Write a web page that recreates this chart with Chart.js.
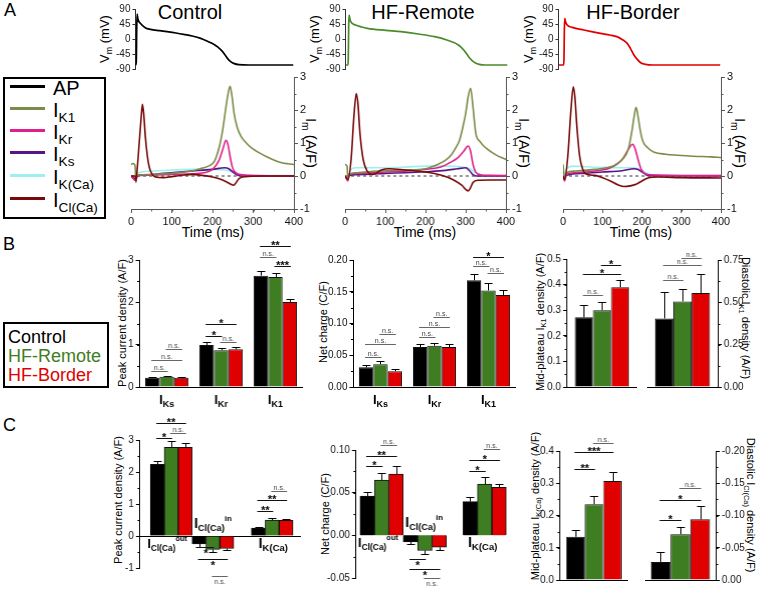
<!DOCTYPE html>
<html>
<head>
<meta charset="utf-8">
<script src="https://cdn.jsdelivr.net/npm/chart.js@4.4.1/dist/chart.umd.min.js"></script>
<style>
  html,body{margin:0;padding:0;background:#fff;}
  body{width:757px;height:589px;position:relative;overflow:hidden;font-family:"Liberation Sans",Arial,sans-serif;color:#000;}
  .t{position:absolute;white-space:nowrap;line-height:1;}
  .c{transform:translate(-50%,-50%);}
  .vl{transform:translate(-50%,-50%) rotate(-90deg);}
  .vr{transform:translate(-50%,-50%) rotate(90deg);}
  .box{position:absolute;border:2px solid #000;box-sizing:border-box;}
  .lg{position:absolute;height:3px;width:35px;left:10px;}
  sub{font-size:0.68em;vertical-align:-0.35em;line-height:0;}
</style>
</head>
<body>
<div class="t" style="left:4px;top:1px;font-size:18px">A</div>
<div class="t" style="left:3px;top:235px;font-size:18px">B</div>
<div class="t" style="left:3px;top:416px;font-size:18px">C</div>

<div class="t c" style="left:190px;top:12px;font-size:20px">Control</div>
<div class="t c" style="left:423px;top:12px;font-size:20px">HF-Remote</div>
<div class="t c" style="left:633px;top:12px;font-size:20px">HF-Border</div>

<div class="t vl" style="left:104px;top:39px;font-size:13px">V<sub>m</sub> (mV)</div>
<div class="t vl" style="left:314px;top:39px;font-size:13px">V<sub>m</sub> (mV)</div>
<div class="t vl" style="left:528px;top:39px;font-size:13px">V<sub>m</sub> (mV)</div>

<div class="t vr" style="left:311px;top:143px;font-size:15px">I<sub>m</sub> (A/F)</div>
<div class="t vr" style="left:524px;top:143px;font-size:15px">I<sub>m</sub> (A/F)</div>
<div class="t vr" style="left:740px;top:143px;font-size:15px">I<sub>m</sub> (A/F)</div>

<div class="t c" style="left:213px;top:232px;font-size:14px">Time (ms)</div>
<div class="t c" style="left:425px;top:232px;font-size:14px">Time (ms)</div>
<div class="t c" style="left:641px;top:232px;font-size:14px">Time (ms)</div>

<!-- legend A -->
<div class="box" style="left:3px;top:77px;width:103px;height:142px"></div>
<div class="lg" style="top:85px;background:#000"></div>
<div class="lg" style="top:107px;background:#7a8c48"></div>
<div class="lg" style="top:129px;background:#e0208a"></div>
<div class="lg" style="top:151px;background:#5a1585"></div>
<div class="lg" style="top:174px;background:#9ef0f0"></div>
<div class="lg" style="top:197px;background:#780a0a"></div>
<div class="t" style="left:53px;top:78px;font-size:20px">AP</div>
<div class="t" style="left:53px;top:100px;font-size:20px">I<sub>K1</sub></div>
<div class="t" style="left:53px;top:122px;font-size:20px">I<sub>Kr</sub></div>
<div class="t" style="left:53px;top:144px;font-size:20px">I<sub>Ks</sub></div>
<div class="t" style="left:53px;top:167px;font-size:20px">I<sub>K(Ca)</sub></div>
<div class="t" style="left:53px;top:190px;font-size:20px">I<sub>Cl(Ca)</sub></div>

<!-- legend B -->
<div class="box" style="left:3px;top:322px;width:106px;height:66px"></div>
<div class="t" style="left:8px;top:328px;font-size:18px;color:#000">Control</div>
<div class="t" style="left:8px;top:347px;font-size:18px;color:#3f7d23">HF-Remote</div>
<div class="t" style="left:8px;top:366px;font-size:18px;color:#e00000">HF-Border</div>

<!-- axis titles B / C -->
<div class="t vl" style="left:122px;top:323px;font-size:11px">Peak current density (A/F)</div>
<div class="t vl" style="left:323px;top:322px;font-size:11px">Net charge (C/F)</div>
<div class="t vl" style="left:540px;top:322px;font-size:11px">Mid-plateau I<sub>K1</sub> density (A/F)</div>
<div class="t vr" style="left:745px;top:318px;font-size:11px">Diastolic I<sub>K1</sub> density (A/F)</div>
<div class="t vl" style="left:118px;top:500px;font-size:11px">Peak current density (A/F)</div>
<div class="t vl" style="left:325px;top:514px;font-size:11px">Net charge (C/F)</div>
<div class="t vl" style="left:535px;top:506px;font-size:11px">Mid-plateau I<sub>K(Ca)</sub> density (A/F)</div>
<div class="t vr" style="left:750px;top:505px;font-size:11px">Diastolic I<sub>Cl(Ca)</sub> density (A/F)</div>

<script>
// ===================== DATA =====================
const groupNames = ['Control', 'HF-Remote', 'HF-Border'];

// ---- Panel A: action potentials, [time ms, Vm mV]
const apControl = [[10,-78],[12,-70],[13,20],[14,75],[16,60],[22,47],[35,33],[47,29],[70,25],[88,22],[110,18],[129,14],[150,9],[171,2],[190,-8],[205,-17],[212,-23],[225,-38],[237,-58],[245,-68],[254,-74],[265,-77],[290,-78],[400,-78]];
const apRemote = [[0,-78],[6,-78],[7,-60],[8,40],[9,72],[11,60],[13,52],[25,42],[40,36],[54,32],[100,26],[137,22],[180,15],[220,7],[250,-3],[279,-18],[292,-33],[304,-53],[312,-64],[320,-71],[330,-76],[345,-78],[400,-78]];
const apBorder = [[-10,-78],[3,-78],[4,-60],[5,30],[6,62],[8,52],[12,42],[25,35],[54,27],[96,17],[120,12],[138,7],[152,-2],[164,-13],[172,-28],[181,-48],[190,-62],[198,-71],[210,-76],[230,-78],[400,-78]];

// ---- Panel A: membrane currents, [time ms, Im A/F]
const ik1Control = [[0,0.35],[5,0.38],[10,0.3],[12,-0.2],[14,0.0],[20,0.03],[50,0.05],[100,0.08],[150,0.15],[170,0.22],[190,0.3],[205,0.45],[217,0.9],[225,1.4],[232,2.0],[237,2.4],[243,2.72],[248,2.4],[253,1.9],[260,1.5],[270,1.2],[283,1.0],[295,0.86],[315,0.7],[337,0.56],[355,0.46],[370,0.4],[385,0.37],[400,0.35]];
const ikrControl = [[0,0],[12,-0.15],[14,0],[20,0.02],[100,0.05],[180,0.1],[200,0.2],[215,0.45],[225,0.8],[233,1.08],[238,0.95],[243,0.6],[248,0.3],[253,0.15],[265,0.05],[290,0.02],[400,0.0]];
const iksControl = [[0,0],[12,-0.1],[15,0],[30,0.03],[80,0.08],[150,0.15],[200,0.2],[230,0.25],[240,0.22],[250,0.12],[260,0.04],[270,0.0],[400,0]];
const ikcaControl = [[0,0],[12,-0.1],[15,0.05],[25,0.12],[50,0.15],[100,0.18],[150,0.2],[200,0.2],[230,0.18],[250,0.12],[265,0.04],[280,0.02],[400,0.01]];
const iclcaControl = [[0,0],[10,0],[12,-0.15],[15,0.2],[20,1.0],[25,1.8],[28,2.17],[31,1.9],[35,1.2],[40,0.6],[45,0.25],[52,0.05],[60,-0.03],[80,-0.05],[100,-0.02],[130,0.03],[150,0.05],[175,0.02],[200,-0.03],[220,-0.1],[235,-0.18],[245,-0.25],[252,-0.28],[258,-0.2],[265,-0.08],[280,-0.02],[320,0],[400,0]];

const ik1Remote = [[0,0.35],[5,0.3],[7,-0.1],[10,0.05],[30,0.1],[80,0.15],[150,0.18],[200,0.22],[230,0.35],[250,0.48],[265,0.65],[275,0.85],[285,1.1],[295,1.6],[300,1.9],[306,2.4],[312,2.66],[318,2.1],[325,1.3],[335,1.05],[350,0.85],[375,0.64],[400,0.5]];
const ikrRemote = [[0,0],[7,-0.15],[10,0.05],[30,0.08],[100,0.12],[200,0.2],[240,0.28],[260,0.4],[280,0.55],[295,0.75],[306,0.91],[312,0.75],[318,0.35],[325,0.12],[335,0.04],[360,0.02],[400,0.01]];
const iksRemote = [[0,0],[7,-0.1],[10,0.02],[50,0.05],[100,0.08],[150,0.1],[200,0.13],[250,0.17],[280,0.22],[300,0.25],[310,0.15],[318,0.04],[325,0],[400,0]];
const ikcaRemote = [[0,0],[7,-0.1],[12,0.15],[25,0.25],[50,0.25],[100,0.25],[150,0.27],[200,0.3],[250,0.3],[290,0.28],[310,0.22],[325,0.1],[340,0.03],[360,0.01],[400,0.01]];
const iclcaRemote = [[0,0],[7,-0.1],[15,0.5],[22,1.8],[28,2.5],[32,2.2],[37,1.3],[45,0.5],[55,0.15],[70,0.05],[90,0.18],[110,0.22],[150,0.18],[200,0.12],[240,0.02],[270,-0.12],[290,-0.28],[306,-0.45],[312,-0.35],[318,-0.2],[330,-0.13],[360,-0.12],[400,-0.12]];

const ik1Border = [[0,0.35],[4,-0.1],[8,0.1],[30,0.15],[80,0.2],[110,0.25],[130,0.32],[150,0.5],[165,0.8],[175,1.4],[180,1.8],[185,2.08],[190,1.8],[196,1.35],[202,1.06],[215,0.85],[231,0.72],[260,0.66],[290,0.63],[330,0.6],[375,0.58],[400,0.56]];
const ikrBorder = [[0,0],[4,-0.15],[8,0.05],[30,0.1],[80,0.15],[120,0.25],[150,0.5],[165,0.8],[176,0.96],[182,0.85],[190,0.5],[198,0.2],[210,0.06],[230,0.03],[400,0.01]];
const iksBorder = [[0,0],[4,-0.1],[8,0.02],[50,0.08],[100,0.12],[150,0.16],[180,0.22],[190,0.2],[200,0.12],[210,0.04],[220,0.01],[400,0]];
const ikcaBorder = [[0,0],[4,-0.1],[8,0.2],[25,0.3],[60,0.28],[100,0.26],[150,0.25],[180,0.25],[195,0.2],[210,0.1],[225,0.04],[250,0.02],[400,0.02]];
const iclcaBorder = [[0,0],[4,-0.1],[12,0.6],[20,2.0],[26,2.7],[30,2.4],[35,1.5],[42,0.6],[50,0.2],[60,0.05],[80,0.02],[100,-0.05],[120,-0.15],[140,-0.27],[155,-0.32],[170,-0.3],[185,-0.25],[200,-0.15],[215,-0.06],[240,-0.03],[300,-0.05],[400,-0.06]];
const zeroLine = [[0,0],[400,0]];

// ---- Panel B
const catsB = ['IKs', 'IKr', 'IK1'];
const peakK_control = [0.22, 0.99, 2.63];
const peakK_remote  = [0.24, 0.87, 2.60];
const peakK_border  = [0.22, 0.89, 2.01];
const peakK_controlSem = [0.02, 0.07, 0.12];
const peakK_remoteSem  = [0.03, 0.04, 0.09];
const peakK_borderSem  = [0.02, 0.05, 0.06];

const chargeK_control = [0.031, 0.063, 0.168];
const chargeK_remote  = [0.036, 0.065, 0.152];
const chargeK_border  = [0.025, 0.063, 0.145];
const chargeK_controlSem = [0.004, 0.005, 0.010];
const chargeK_remoteSem  = [0.005, 0.004, 0.012];
const chargeK_borderSem  = [0.003, 0.004, 0.008];

const midK1 = [0.272, 0.300, 0.390];
const midK1Sem = [0.048, 0.032, 0.028];
const diaK1 = [0.405, 0.505, 0.555];
const diaK1Sem = [0.155, 0.075, 0.110];

// ---- Panel C
const catsC = ['ICl(Ca)out', 'ICl(Ca)in', 'IK(Ca)'];
const peakCl_control = [2.24, -0.25, 0.25];
const peakCl_remote  = [2.77, -0.42, 0.50];
const peakCl_border  = [2.77, -0.39, 0.49];
const peakCl_controlSem = [0.10, 0.08, 0.04];
const peakCl_remoteSem  = [0.20, 0.07, 0.07];
const peakCl_borderSem  = [0.13, 0.05, 0.03];

const chargeCl_control = [0.046, -0.0078, 0.0395];
const chargeCl_remote  = [0.0647, -0.0178, 0.060];
const chargeCl_border  = [0.0717, -0.014, 0.0562];
const chargeCl_controlSem = [0.0044, 0.002, 0.005];
const chargeCl_remoteSem  = [0.0078, 0.004, 0.0078];
const chargeCl_borderSem  = [0.0093, 0.0027, 0.0035];

const midKCa = [0.134, 0.235, 0.307];
const midKCaSem = [0.022, 0.024, 0.029];
const diaClCa = [-0.028, -0.071, -0.094];
const diaClCaSem = [0.015, 0.011, 0.021];

// significance annotations: [category, groupA, groupB, level (data units), label]
const sigB1 = [[0,0,1,0.38,'n.s.'],[0,0,2,0.64,'n.s.'],[0,1,2,0.89,'n.s.'],[1,0,1,1.20,'*'],[1,0,2,1.48,'*'],[1,1,2,1.06,'n.s.'],[2,0,1,3.08,'n.s.'],[2,0,2,3.32,'**'],[2,1,2,2.85,'***']];
const sigB2 = [[0,0,1,0.048,'n.s.'],[0,0,2,0.067,'n.s.'],[0,1,2,0.084,'n.s.'],[1,0,1,0.078,'n.s.'],[1,0,2,0.094,'n.s.'],[1,1,2,0.111,'n.s.'],[2,0,1,0.190,'n.s.'],[2,0,2,0.205,'*'],[2,1,2,0.180,'n.s.']];
const sigB3 = [[0,0,1,0.36,'n.s.'],[0,0,2,0.44,'*'],[0,1,2,0.475,'*']];
const sigB4 = [[0,0,1,0.63,'n.s.'],[0,0,2,0.72,'n.s.'],[0,1,2,0.76,'n.s.']];
const sigC1 = [[0,0,1,3.06,'*'],[0,1,2,3.22,'n.s.'],[0,0,2,3.53,'**'],[1,0,1,-0.34,'*'],[1,0,2,-0.72,'*'],[1,1,2,-1.25,'n.s.'],[2,0,1,0.78,'**'],[2,0,2,1.13,'**'],[2,1,2,1.41,'n.s.']];
const sigC2 = [[0,0,1,0.081,'*'],[0,0,2,0.0926,'**'],[0,1,2,0.1055,'n.s.'],[1,0,1,-0.028,'*'],[1,0,2,-0.040,'*'],[1,1,2,-0.050,'n.s.'],[2,0,1,0.075,'*'],[2,0,2,0.088,'*'],[2,1,2,0.1008,'n.s.']];
const sigC3 = [[0,0,1,0.344,'**'],[0,0,2,0.396,'***'],[0,1,2,0.424,'n.s.']];
const sigC4 = [[0,0,1,-0.093,'*'],[0,0,2,-0.124,'*'],[0,1,2,-0.143,'n.s.']];

// ===================== LAYOUT / STYLE / HELPERS =====================
// group slots along the x axis of panel C bar charts (out and in groups sit side by side)
const slotsC1 = [0, 1, 2.42], rangeC1 = [-0.747, 3.108], barPxC1 = 13.83;
const slotsC2 = [0, 1, 2.384], rangeC2 = [-0.593, 3.035], barPxC2 = 14.33;

const FONT = '"Liberation Sans", Arial, sans-serif';
const groupColors = ['#000000', '#3f7d23', '#e00000'];
const traceColors = {ik1:'#7a8c48', ikr:'#e0208a', iks:'#5a1585', ikca:'#9ef0f0', iclca:'#780a0a'};
Chart.defaults.font.family = FONT;
Chart.defaults.color = '#000';
Chart.defaults.animation = false;
Chart.defaults.events = [];
Chart.defaults.plugins.legend.display = false;
Chart.defaults.plugins.tooltip.enabled = false;

function xy(a) { return a.map(p => ({x: p[0], y: p[1]})); }

// rich text (subscript / superscript); align 'center' or 'left'; shrinks to fit maxW if given
function drawRich(ctx, x, y, parts, align, maxW) {
  ctx.save();
  ctx.fillStyle = '#000';
  ctx.textBaseline = 'alphabetic';
  ctx.textAlign = 'left';
  let w = 0;
  parts.forEach(p => { ctx.font = 'bold ' + p[1] + 'px ' + FONT; w += ctx.measureText(p[0]).width; });
  let k = 1;
  if (maxW && w > maxW) k = maxW / w;
  let cx = align === 'left' ? x : x - (w * k) / 2;
  parts.forEach(p => {
    ctx.font = 'bold ' + (p[1] * k).toFixed(2) + 'px ' + FONT;
    ctx.fillText(p[0], cx, y + p[2]);
    cx += ctx.measureText(p[0]).width;
  });
  ctx.restore();
}

const errPlugin = {
  id: 'errbars',
  afterDatasetsDraw(chart) {
    const ys = chart.scales.y, ctx = chart.ctx;
    ctx.save();
    ctx.strokeStyle = '#000'; ctx.lineWidth = 1;
    chart.data.datasets.forEach((ds, i) => {
      if (!ds.err) return;
      const vals = ds.vals || ds.data;
      chart.getDatasetMeta(i).data.forEach((el, j) => {
        const v = vals[j], e = ds.err[j];
        const y0 = ys.getPixelForValue(v);
        const y1 = Math.round(ys.getPixelForValue(v + Math.sign(v) * e)) + 0.5;
        const x = Math.round(el.x) + 0.5;
        ctx.beginPath();
        ctx.moveTo(x, y0); ctx.lineTo(x, y1);
        ctx.moveTo(x - 4, y1); ctx.lineTo(x + 4, y1);
        ctx.stroke();
      });
    });
    ctx.restore();
  }
};

const sigPlugin = {
  id: 'sig',
  afterDatasetsDraw(chart, args, opts) {
    const items = (opts && opts.items) || [];
    if (!items.length) return;
    const ys = chart.scales.y, ctx = chart.ctx;
    const zeroPx = ys.getPixelForValue(0);
    ctx.save();
    items.forEach(([cat, a, b, v, label]) => {
      const xa = chart.getDatasetMeta(a).data[cat].x;
      const xb = chart.getDatasetMeta(b).data[cat].x;
      const y = Math.round(ys.getPixelForValue(v)) + 0.5;
      const up = y < zeroPx;
      const ns = label === 'n.s.';
      ctx.strokeStyle = ns ? '#666' : '#111';
      ctx.lineWidth = 1;
      ctx.beginPath(); ctx.moveTo(xa - 1, y); ctx.lineTo(xb + 1, y); ctx.stroke();
      ctx.fillStyle = ns ? '#444' : '#000';
      ctx.textAlign = 'center';
      ctx.textBaseline = 'alphabetic';
      ctx.font = ns ? '7px ' + FONT : 'bold 11px ' + FONT;
      const mid = (xa + xb) / 2;
      if (up) ctx.fillText(label, mid, ns ? y - 1.5 : y + 2.5);
      else ctx.fillText(label, mid, ns ? y + 7.5 : y + 9);
    });
    ctx.restore();
  }
};

const catPlugin = {
  id: 'cats',
  afterDraw(chart, args, opts) {
    const items = (opts && opts.items) || [];
    items.forEach(it => {
      const first = chart.getDatasetMeta(0).data[it.cat], last = chart.getDatasetMeta(2).data[it.cat];
      const base = it.v !== undefined ? chart.scales.y.getPixelForValue(it.v) : chart.chartArea.bottom;
      if (it.align === 'left') {
        const left = first.x - first.width / 2 + (it.dx || 0);
        const groupW = (last.x + last.width / 2) - (first.x - first.width / 2);
        drawRich(chart.ctx, left, base + it.dy, it.parts, 'left', groupW - (it.dx || 0) + (it.extra || 0));
      } else {
        drawRich(chart.ctx, (first.x + last.x) / 2 + (it.dx || 0), base + it.dy, it.parts, 'center');
      }
    });
  }
};

// minor ticks between the major ones, placed through the scale
const minorPlugin = {
  id: 'minor',
  afterDraw(chart, args, opts) {
    const list = (opts && opts.axes) || [];
    if (!list.length) return;
    const ctx = chart.ctx, ca = chart.chartArea;
    ctx.save();
    list.forEach(a => {
      const s = chart.scales[a.id];
      ctx.strokeStyle = a.color || '#000'; ctx.lineWidth = 1;
      const lo = Math.min(s.min, s.max), hi = Math.max(s.min, s.max);
      const n = Math.round((hi - lo) / a.step);
      for (let k = 0; k <= n; k++) {
        const v = lo + k * a.step;
        const p = Math.round(s.getPixelForValue(v)) + 0.5;
        ctx.beginPath();
        if (s.isHorizontal()) { ctx.moveTo(p, ca.bottom); ctx.lineTo(p, ca.bottom + 2.5); }
        else if (s.position === 'right') { ctx.moveTo(ca.right, p); ctx.lineTo(ca.right + 2.5, p); }
        else { ctx.moveTo(ca.left, p); ctx.lineTo(ca.left - 2.5, p); }
        ctx.stroke();
      }
    });
    ctx.restore();
  }
};
Chart.register(errPlugin, sigPlugin, catPlugin, minorPlugin);

function place(area, cfg) {
  const wrap = document.createElement('div');
  wrap.style.position = 'absolute';
  const cv = document.createElement('canvas');
  wrap.appendChild(cv);
  document.body.appendChild(wrap);
  let W = area.r - area.l + 80, H = area.b - area.t + 80;
  wrap.style.width = W + 'px'; wrap.style.height = H + 'px';
  cfg.options.responsive = true;
  cfg.options.maintainAspectRatio = false;
  const ch = new Chart(cv, cfg);
  for (let k = 0; k < 5; k++) {
    const ca = ch.chartArea;
    const dw = (area.r - area.l) - (ca.right - ca.left);
    const dh = (area.b - area.t) - (ca.bottom - ca.top);
    if (Math.abs(dw) < 0.5 && Math.abs(dh) < 0.5) break;
    W += dw; H += dh;
    wrap.style.width = W + 'px'; wrap.style.height = H + 'px';
    ch.resize();
  }
  const ca = ch.chartArea;
  wrap.style.left = (area.l - ca.left) + 'px';
  wrap.style.top = (area.t - ca.top) + 'px';
  return ch;
}

function axisStyle(extra) {
  return Object.assign({
    grid: {drawOnChartArea: false, tickLength: 4, color: '#000', lineWidth: 1},
    border: {color: '#000', width: 1},
  }, extra);
}

// ---------- Panel A charts ----------
function apCfg(data, color, xmin) {
  return {
    type: 'line',
    data: {datasets: [{data: xy(data), borderColor: color, borderWidth: 1.7, pointRadius: 0, cubicInterpolationMode: 'monotone'}]},
    options: {
      layout: {padding: {top: 10, bottom: 10, left: 4, right: 10}},
      scales: {
        x: {type: 'linear', min: xmin, max: 400, display: false},
        y: axisStyle({type: 'linear', min: -90, max: 90, ticks: {stepSize: 45, font: {size: 10}, padding: 2, color: '#222'},
          grid: {drawOnChartArea: false, tickLength: 3, color: '#333'}, border: {color: '#333'}})
      }
    }
  };
}

function curCfg(s) {
  const sets = [
    {d: s.iclca, c: traceColors.iclca},
    {d: s.ik1, c: traceColors.ik1},
    {d: s.ikr, c: traceColors.ikr},
    {d: s.iks, c: traceColors.iks},
    {d: s.ikca, c: traceColors.ikca},
    {d: zeroLine, c: '#333', w: 1, dash: [3, 3]}
  ];
  return {
    type: 'line',
    data: {datasets: sets.map(o => ({data: xy(o.d), borderColor: o.c, borderWidth: o.w || 1.6, borderDash: o.dash || [], pointRadius: 0, cubicInterpolationMode: 'monotone', fill: false}))},
    options: {
      layout: {padding: {top: 10, bottom: 4, left: 10, right: 4}},
      scales: {
        x: {type: 'linear', min: 0, max: 400,
          ticks: {stepSize: 100, font: {size: 11}, padding: 2, color: '#111'},
          grid: {drawOnChartArea: false, tickLength: 4, color: '#555'}, border: {color: '#555'}},
        y: {type: 'linear', position: 'right', min: -1, max: 3,
          ticks: {stepSize: 1, font: {size: 11}, padding: 2, color: '#111'},
          grid: {drawOnChartArea: false, tickLength: 4, color: '#555'}, border: {color: '#555'}}
      },
      plugins: {minor: {axes: [{id: 'x', step: 50, color: '#555'}, {id: 'y', step: 0.5, color: '#555'}]}}
    }
  };
}

place({l: 135, r: 293, t: 9, b: 69}, apCfg(apControl, '#000000', 10));
place({l: 345, r: 507, t: 9, b: 69}, apCfg(apRemote, '#4a8a2a', 0));
place({l: 558, r: 720, t: 9, b: 69}, apCfg(apBorder, '#e00000', -10));

place({l: 131, r: 293, t: 77, b: 209}, curCfg({ik1: ik1Control, ikr: ikrControl, iks: iksControl, ikca: ikcaControl, iclca: iclcaControl}));
place({l: 345, r: 505, t: 77, b: 209}, curCfg({ik1: ik1Remote, ikr: ikrRemote, iks: iksRemote, ikca: ikcaRemote, iclca: iclcaRemote}));
place({l: 563, r: 720, t: 77, b: 209}, curCfg({ik1: ik1Border, ikr: ikrBorder, iks: iksBorder, ikca: ikcaBorder, iclca: iclcaBorder}));

// ---------- Bar charts ----------
function barCfg(o) {
  const linear = !!o.slots;
  let xScale;
  if (linear) {
    xScale = {type: 'linear', min: o.range[0], max: o.range[1], offset: false, display: false};
  } else {
    xScale = {grid: {display: false}, ticks: {display: false}, border: {display: true, color: '#000', width: 1}};
  }
  const yGrid = linear
    ? {drawOnChartArea: true, tickLength: 4, lineWidth: 1, tickColor: '#000',
       color: c => (c.tick && c.tick.value === 0) ? '#000' : 'rgba(0,0,0,0)'}
    : {drawOnChartArea: false, tickLength: 4, color: '#000', lineWidth: 1};
  return {
    type: 'bar',
    data: {
      labels: linear ? undefined : o.labels,
      datasets: o.series.map((d, i) => Object.assign({
        data: linear ? d.map((v, j) => ({x: o.slots[j], y: v})) : d,
        vals: d, err: o.errs[i], label: groupNames[i],
        backgroundColor: groupColors[i], borderColor: '#111', borderWidth: 1,
        barPercentage: 1, categoryPercentage: o.pct}, linear ? {barThickness: o.barPx} : {}))
    },
    options: {
      layout: {padding: {top: 45, bottom: 45, left: 6, right: 6}},
      scales: {
        x: xScale,
        y: Object.assign({type: 'linear', grid: yGrid, border: {color: '#000', width: 1},
          ticks: {stepSize: o.step, font: {size: 10}, padding: 2, color: '#111',
          callback: v => o.dec === 0 ? String(Math.round(v)) : Number(v).toFixed(o.dec)}}, o.y)
      },
      plugins: {sig: {items: o.sig}, cats: {items: o.cats || []}, minor: {axes: [{id: 'y', step: o.step / 2}]}}
    }
  };
}

const subK = (s) => [['I', 13, 0], [s, 9, 3]];
const lblOut = [['I', 14, 0], ['Cl(Ca)', 9, 3], ['out', 8, -7]];
const lblIn = [['I', 14, 0], ['Cl(Ca)', 9, 3], ['in', 8, -7]];
const lblKCa = [['I', 14, 0], ['K(Ca)', 9.5, 3]];

// B1
place({l: 140, r: 302, t: 260, b: 387}, barCfg({
  labels: catsB, series: [peakK_control, peakK_remote, peakK_border], errs: [peakK_controlSem, peakK_remoteSem, peakK_borderSem],
  pct: 0.8, step: 1, dec: 0, y: {min: 0, max: 3}, sig: sigB1,
  cats: [{cat: 0, dy: 17, parts: subK('Ks')}, {cat: 1, dy: 17, parts: subK('Kr')}, {cat: 2, dy: 17, parts: subK('K1')}]
}));
// B2
place({l: 353, r: 515, t: 260, b: 387}, barCfg({
  labels: catsB, series: [chargeK_control, chargeK_remote, chargeK_border], errs: [chargeK_controlSem, chargeK_remoteSem, chargeK_borderSem],
  pct: 0.8, step: 0.05, dec: 2, y: {min: 0, max: 0.2}, sig: sigB2,
  cats: [{cat: 0, dy: 17, parts: subK('Ks')}, {cat: 1, dy: 17, parts: subK('Kr')}, {cat: 2, dy: 17, parts: subK('K1')}]
}));
// B3
place({l: 567, r: 636, t: 259, b: 387}, barCfg({
  labels: ['IK1 mid'], series: [[midK1[0]], [midK1[1]], [midK1[2]]], errs: [[midK1Sem[0]], [midK1Sem[1]], [midK1Sem[2]]],
  pct: 0.78, step: 0.1, dec: 1, y: {min: 0, max: 0.5}, sig: sigB3
}));
// B4
place({l: 647, r: 717, t: 260, b: 387}, barCfg({
  labels: ['IK1 dia'], series: [[diaK1[0]], [diaK1[1]], [diaK1[2]]], errs: [[diaK1Sem[0]], [diaK1Sem[1]], [diaK1Sem[2]]],
  pct: 0.78, step: 0.25, dec: 2, y: {min: 0, max: 0.75, position: 'right'}, sig: sigB4
}));
// C1
place({l: 140, r: 300, t: 440, b: 568}, barCfg({
  labels: catsC, slots: slotsC1, range: rangeC1, barPx: barPxC1,
  series: [peakCl_control, peakCl_remote, peakCl_border], errs: [peakCl_controlSem, peakCl_remoteSem, peakCl_borderSem],
  pct: 1, step: 1, dec: 0, y: {min: -1, max: 3}, sig: sigC1,
  cats: [{cat: 0, v: 0, dy: 12, dx: -3, align: 'left', extra: -5, parts: lblOut},
         {cat: 1, v: 0, dy: -8, dx: 2, align: 'left', extra: 0, parts: lblIn},
         {cat: 2, v: 0, dy: 12, dx: 1, parts: lblKCa}]
}));
// C2
place({l: 356, r: 512, t: 450, b: 578}, barCfg({
  labels: catsC, slots: slotsC2, range: rangeC2, barPx: barPxC2,
  series: [chargeCl_control, chargeCl_remote, chargeCl_border], errs: [chargeCl_controlSem, chargeCl_remoteSem, chargeCl_borderSem],
  pct: 1, step: 0.05, dec: 2, y: {min: -0.05, max: 0.1}, sig: sigC2,
  cats: [{cat: 0, v: 0, dy: 12, dx: -2, align: 'left', extra: -5, parts: lblOut},
         {cat: 1, v: 0, dy: -8, dx: 2, align: 'left', extra: 0, parts: lblIn},
         {cat: 2, v: 0, dy: 12, dx: -2, parts: lblKCa}]
}));
// C3
place({l: 560, r: 627, t: 451, b: 580}, barCfg({
  labels: ['IK(Ca) mid'], series: [[midKCa[0]], [midKCa[1]], [midKCa[2]]], errs: [[midKCaSem[0]], [midKCaSem[1]], [midKCaSem[2]]],
  pct: 0.82, step: 0.1, dec: 1, y: {min: 0, max: 0.4}, sig: sigC3
}));
// C4
place({l: 645, r: 715, t: 451, b: 580}, barCfg({
  labels: ['ICl(Ca) dia'], series: [[diaClCa[0]], [diaClCa[1]], [diaClCa[2]]], errs: [[diaClCaSem[0]], [diaClCaSem[1]], [diaClCaSem[2]]],
  pct: 0.84, step: 0.05, dec: 2, y: {min: -0.2, max: 0, reverse: true, position: 'right'}, sig: sigC4
}));
</script>
</body>
</html>
